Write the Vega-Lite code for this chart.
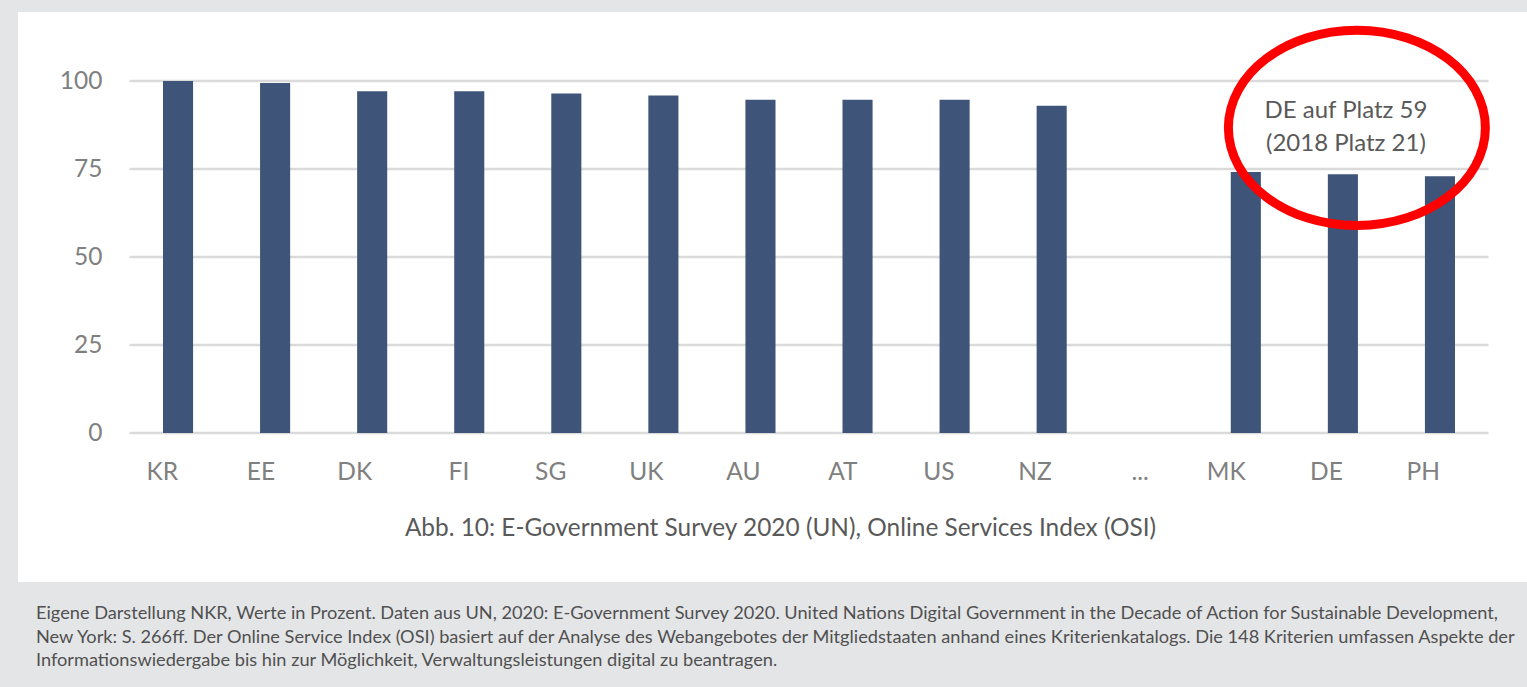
{
  "$schema": "https://vega.github.io/schema/vega-lite/v6.json",
  "autosize": {"type": "none"},
  "width": 1509,
  "height": 570,
  "padding": {"left": 18, "top": 12, "right": 0, "bottom": 105},
  "background": "#e4e5e7",
  "view": {"fill": "#ffffff", "stroke": null},
  "config": {"font": "Lato"},
  "title": {
    "text": [
      "Eigene Darstellung NKR, Werte in Prozent. Daten aus UN, 2020: E-Government Survey 2020. United Nations Digital Government in the Decade of Action for Sustainable Development,",
      "New York: S. 266ff. Der Online Service Index (OSI) basiert auf der Analyse des Webangebotes der Mitgliedstaaten anhand eines Kriterienkatalogs. Die 148 Kriterien umfassen Aspekte der",
      "Informationswiedergabe bis hin zur Möglichkeit, Verwaltungsleistungen digital zu beantragen."
    ],
    "orient": "bottom",
    "anchor": "start",
    "frame": "bounds",
    "offset": 23,
    "dx": 18,
    "font": "Lato",
    "fontSize": 18.2,
    "fontWeight": "normal",
    "color": "#505050",
    "lineHeight": 23.5
  },
  "datasets": {
    "osi": [
      {"country": "KR", "value": 100.0},
      {"country": "EE", "value": 99.41},
      {"country": "DK", "value": 97.06},
      {"country": "FI", "value": 97.06},
      {"country": "SG", "value": 96.47},
      {"country": "UK", "value": 95.88},
      {"country": "AU", "value": 94.71},
      {"country": "AT", "value": 94.71},
      {"country": "US", "value": 94.71},
      {"country": "NZ", "value": 92.94},
      {"country": "MK", "value": 74.12},
      {"country": "DE", "value": 73.53},
      {"country": "PH", "value": 72.94}
    ],
    "grid": [{"v": 0}, {"v": 25}, {"v": 50}, {"v": 75}, {"v": 100}],
    "note": [{"country": "DE", "value": 86.7, "label": "DE auf Platz 59\n(2018 Platz 21)"}]
  },
  "layer": [
    {
      "data": {"name": "grid"},
      "mark": {"type": "rule", "color": "#dadada", "strokeWidth": 2.5},
      "encoding": {
        "y": {"field": "v", "type": "quantitative"},
        "x": {"datum": "KR", "type": "nominal", "bandPosition": -1.113},
        "x2": {"datum": "PH", "bandPosition": 2.113}
      }
    },
    {
      "data": {"name": "osi"},
      "mark": {"type": "bar", "color": "#3e5579"},
      "encoding": {
        "x": {
          "field": "country",
          "type": "nominal",
          "sort": null,
          "scale": {
            "type": "band",
            "domain": ["KR", "EE", "DK", "FI", "SG", "UK", "AU", "AT", "US", "NZ", "...", "MK", "DE", "PH"],
            "range": [111.5, 1470.5],
            "paddingInner": 0.69,
            "paddingOuter": 0.345,
            "align": 0.5
          },
          "axis": {
            "orient": "bottom",
            "offset": -149,
            "labelPadding": 39,
            "labelAngle": 0,
            "domain": false,
            "ticks": false,
            "grid": false,
            "labelFont": "Lato",
            "labelFontSize": 24.5,
            "labelColor": "#808080",
            "title": "Abb. 10: E-Government Survey 2020 (UN), Online Services Index (OSI)",
            "titleFont": "Lato",
            "titleFontSize": 24.4,
            "titleFontWeight": "normal",
            "titleColor": "#595959",
            "titlePadding": 33,
            "titleX": 762,
            "titleAlign": "center"
          }
        },
        "y": {
          "field": "value",
          "type": "quantitative",
          "scale": {"domain": [-42.3, 119.6], "nice": false, "zero": false},
          "axis": {
            "values": [0, 25, 50, 75, 100],
            "offset": -111.5,
            "labelPadding": 27.5,
            "domain": false,
            "ticks": false,
            "grid": false,
            "title": null,
            "labelFont": "Lato",
            "labelFontSize": 24.5,
            "labelColor": "#808080"
          }
        },
        "y2": {"datum": 0}
      }
    },
    {
      "data": {"name": "note"},
      "mark": {
        "type": "point",
        "shape": "M -1 0 A 1 0.76 0 1 0 1 0 A 1 0.76 0 1 0 -1 0 Z",
        "size": 66049,
        "filled": false,
        "stroke": "#ff0000",
        "strokeWidth": 9,
        "opacity": 1
      },
      "encoding": {
        "x": {"field": "country", "type": "nominal", "bandPosition": 0.965},
        "y": {"field": "value", "type": "quantitative"}
      }
    },
    {
      "data": {"name": "note"},
      "mark": {
        "type": "text",
        "lineBreak": "\n",
        "lineHeight": 33,
        "font": "Lato",
        "fontSize": 24,
        "color": "#595959",
        "align": "center",
        "baseline": "middle",
        "dy": -17
      },
      "encoding": {
        "x": {"field": "country", "type": "nominal", "bandPosition": 0.6},
        "y": {"field": "value", "type": "quantitative"},
        "text": {"field": "label"}
      }
    }
  ]
}
